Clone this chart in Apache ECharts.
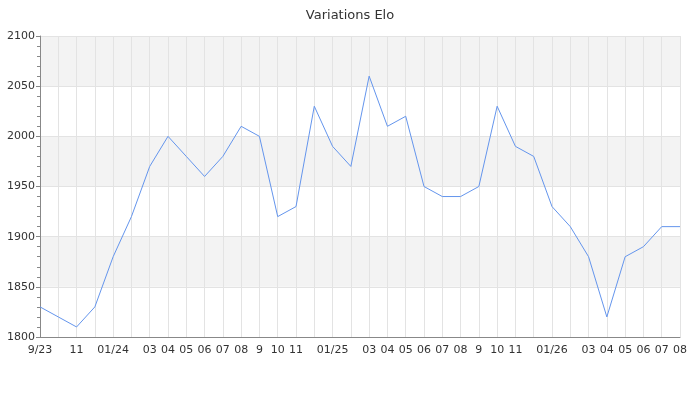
<!DOCTYPE html>
<html>
<head>
<meta charset="utf-8">
<script src="https://cdn.jsdelivr.net/npm/echarts@6/dist/echarts.min.js"></script>
<style>html,body{margin:0;padding:0;background:#fff;}#c{width:700px;height:400px;}</style>
</head>
<body>
<div id="c"></div>
<script>
var months = ["2023-09","2023-10","2023-11","2023-12","2024-01","2024-02","2024-03","2024-04","2024-05","2024-06","2024-07","2024-08","2024-09","2024-10","2024-11","2024-12","2025-01","2025-02","2025-03","2025-04","2025-05","2025-06","2025-07","2025-08","2025-09","2025-10","2025-11","2025-12","2026-01","2026-02","2026-03","2026-04","2026-05","2026-06","2026-07","2026-08"];
var tickLabels = ["9/23","","11","","01/24","","03","04","05","06","07","08","9","10","11","","01/25","","03","04","05","06","07","08","9","10","11","","01/26","","03","04","05","06","07","08"];
var elo = [1830,1820,1810,1830,1880,1920,1970,2000,1980,1960,1980,2010,2000,1920,1930,2030,1990,1970,2060,2010,2020,1950,1940,1940,1950,2030,1990,1980,1930,1910,1880,1820,1880,1890,1910,1910];

var chart = echarts.init(document.getElementById('c'), null, {renderer:'canvas'});
chart.setOption({
  animation: false,
  textStyle: {fontFamily: 'DejaVu Sans'},
  title: {text: 'Variations Elo', left: 'center', top: 4,
    textStyle: {fontSize: 13, fontWeight: 'normal', color: '#333', fontFamily: 'DejaVu Sans'}},
  grid: {left: 40, right: 20, top: 36, bottom: 63, containLabel: false},
  xAxis: {
    type: 'category', data: months, boundaryGap: false,
    axisLine: {lineStyle: {color: '#888'}},
    axisTick: {show: false},
    axisLabel: {interval: 0, color: '#333', fontSize: 11, margin: 8,
      formatter: function (v, i) { return tickLabels[i]; }},
    splitLine: {show: true, interval: 0, lineStyle: {color: '#e3e3e3', width: 1}}
  },
  yAxis: {
    type: 'value', min: 1800, max: 2100, interval: 50,
    axisLine: {show: true, lineStyle: {color: '#888'}},
    axisTick: {show: true, length: 4, lineStyle: {color: '#888'}},
    minorTick: {show: true, splitNumber: 5, length: 3, lineStyle: {color: '#888'}},
    axisLabel: {color: '#333', fontSize: 11, margin: 5,
      formatter: function (v) { return String(v); }},
    splitLine: {show: true, lineStyle: {color: '#e3e3e3'}},
    splitArea: {show: true, areaStyle: {color: ['#ffffff', '#f3f3f3']}}
  },
  series: [{
    type: 'line', data: elo, symbol: 'none',
    lineStyle: {color: '#6495ED', width: 1}
  }]
});
</script>
</body>
</html>
